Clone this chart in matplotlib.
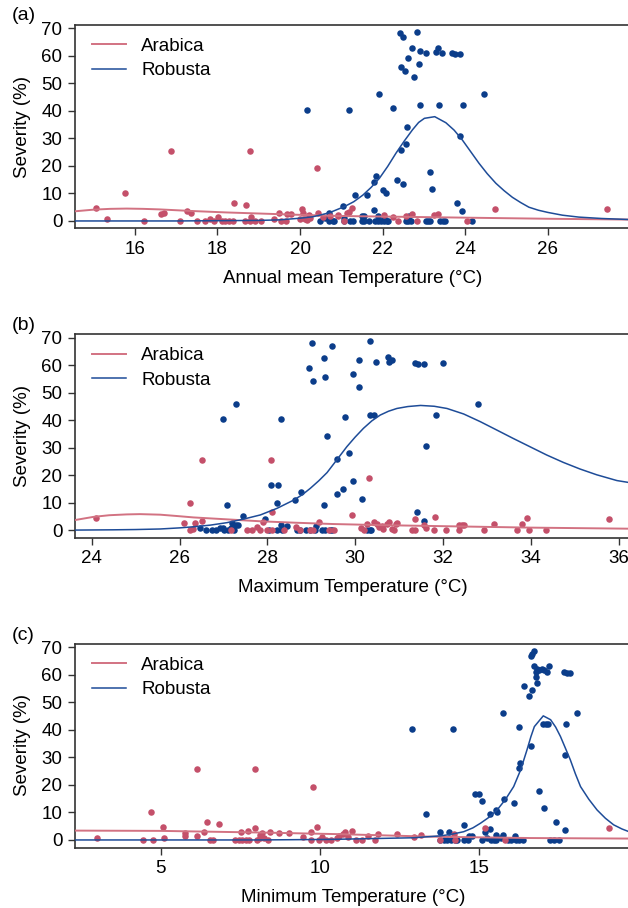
import numpy as np
import matplotlib
matplotlib.use('Agg')
import matplotlib.pyplot as plt

plt.rcParams['font.family'] = ['Liberation Sans', 'DejaVu Sans']
plt.rcParams['font.size'] = 13.5

# ---------------- panel (a): annual mean temperature ----------------
a_rob_x = [22.41, 22.50, 22.84, 22.70, 22.91, 23.06, 23.28, 23.35, 23.43, 23.67, 23.76, 23.88,
           22.62, 22.44, 22.53, 22.89, 22.77, 21.90, 24.46, 20.16, 21.18, 22.26, 22.91, 23.37,
           23.94, 22.58, 23.86, 22.56, 22.44, 23.14, 21.84, 21.78, 22.35, 22.48, 23.19, 22.01,
           22.07, 21.34, 21.62, 21.05, 23.81, 23.93, 21.78,
           20.47, 20.61, 20.69, 20.71, 20.79, 20.81, 21.07, 21.07, 21.20, 21.29, 21.50, 21.54,
           21.50, 21.54, 21.68, 21.81, 21.88, 21.88, 21.96, 22.02, 22.02, 22.10, 22.14, 22.56,
           22.62, 22.64, 22.68, 23.05, 23.10, 23.15, 23.39, 23.45, 23.50, 24.17]
a_rob_y = [68.2, 67.0, 68.5, 62.7, 61.9, 61.2, 61.5, 63.0, 60.9, 60.9, 60.6, 60.6,
           59.3, 55.8, 54.5, 56.9, 52.3, 46.0, 46.0, 40.3, 40.3, 41.2, 42.0, 42.0,
           42.3, 34.3, 30.8, 28.1, 25.9, 17.8, 16.5, 14.0, 14.9, 13.4, 11.5, 11.1,
           10.1, 9.4, 9.4, 5.3, 6.7, 3.6, 4.1,
           0, 1.0, 0, 2.8, 0, 0, 0, 1.0, 0, 0, 1.8, 1.8,
           0, 0, 0, 0, 1.8, 0, 0, 1.0, 0, 0, 0, 0,
           0, 1.8, 0, 0, 0, 0, 0, 0, 0, 0]
a_ara_x = [15.05, 15.33, 15.77, 16.21, 16.64, 16.70, 16.88, 17.10, 17.25, 17.37, 17.51, 17.69,
           17.81, 17.91, 18.01, 18.11, 18.19, 18.28, 18.37, 18.39, 18.66, 18.70, 18.78, 18.82,
           18.92, 19.06, 18.78, 19.38, 19.50, 19.53, 19.67, 19.69, 19.79, 19.99, 20.04, 20.07,
           20.13, 20.21, 20.42, 20.43, 20.55, 20.73, 20.92, 20.91, 21.07, 21.13, 21.18, 21.26,
           22.04, 22.24, 22.38, 22.56, 22.72, 22.84, 23.25, 23.33, 24.05, 24.72, 27.43, 20.17, 20.25]
a_ara_y = [4.6, 0.7, 10.1, 0, 2.5, 3.0, 25.6, 0, 3.5, 2.8, 0, 0,
           0.6, 0, 1.6, 0, 0, 0, 0, 6.7, 0, 5.8, 0, 1.3,
           0, 0, 25.6, 0.6, 2.8, 0, 0, 2.4, 2.4, 0.6, 4.4, 2.8,
           0.6, 2.2, 19.1, 2.8, 1.6, 1.8, 2.2, 1.8, 0, 2.8, 3.4, 4.6,
           2.2, 1.3, 0, 1.8, 2.4, 0, 2.2, 2.4, 0, 4.4, 4.2, 0.3, 1.0]
a_rob_fit_x = [14.55, 17.0, 18.0, 19.0, 19.5, 20.0, 20.3, 20.5, 20.71, 21.07, 21.3, 21.52,
               21.72, 21.92, 22.12, 22.32, 22.52, 22.72, 22.87, 23.01, 23.26, 23.53, 23.73,
               23.93, 24.13, 24.33, 24.53, 24.74, 24.94, 25.14, 25.34, 25.54, 25.77, 26.0,
               26.35, 26.75, 27.3, 28.0]
a_rob_fit_y = [0.0, 0.0, 0.1, 0.2, 0.4, 1.0, 1.5, 2.2, 3.0, 5.2, 7.0, 9.4,
               12.2, 15.5, 19.8, 24.6, 29.0, 33.1, 35.8, 37.3, 37.9, 35.7, 33.0,
               29.4, 25.2, 21.0, 17.2, 13.7, 11.0, 8.6, 6.7, 5.0, 3.9, 3.1,
               2.1, 1.4, 0.9, 0.5]
a_ara_fit_x = [14.54, 14.99, 15.4, 15.8, 16.2, 16.6, 17.0, 17.41, 18.21, 19.02, 19.83, 20.96,
               22.0, 24.0, 26.0, 28.0]
a_ara_fit_y = [3.5, 4.1, 4.4, 4.5, 4.4, 4.2, 3.9, 3.6, 3.1, 2.7, 2.3, 1.8,
               1.6, 1.2, 0.8, 0.5]

# ---------------- panel (b): maximum temperature ----------------
b_rob_x = [27.00, 27.28, 27.09, 27.44, 27.20, 27.28, 27.33, 27.18, 26.46, 26.60, 26.73, 26.84,
           26.93, 26.98, 27.02, 27.10, 27.23, 27.95, 28.08, 28.24, 28.22, 28.30, 28.62, 28.77,
           28.30, 28.45, 28.03, 28.22, 28.33, 28.68, 28.75, 28.89, 28.98, 29.09, 29.25, 29.32,
           29.43, 29.10, 28.96, 29.04, 29.02, 29.30, 29.32, 29.47, 29.35, 29.30, 29.58, 29.58,
           30.33, 30.08, 30.47, 30.74, 30.77, 30.83, 31.37, 31.42, 31.57, 32.00, 29.95, 30.09,
           29.77, 30.34, 30.42, 32.79, 31.83, 31.61, 29.87, 29.95, 29.72, 30.16, 31.40, 31.57,
           29.47, 30.28, 30.33, 30.37]
b_rob_y = [40.3, 46.0, 9.3, 5.3, 2.5, 2.0, 1.9, 1.0, 1.0, 0, 0, 0.2,
           0.7, 1.0, 0, 0, 0, 4.1, 16.5, 16.5, 10.1, 40.3, 11.0, 14.0,
           1.9, 1.7, 0, 0, 0, 0, 0, 0, 0, 0, 0, 0,
           0, 1.7, 59.1, 54.4, 68.1, 62.7, 55.7, 67.0, 34.3, 9.3, 25.8, 13.3,
           68.7, 62.0, 61.2, 62.9, 61.2, 61.8, 60.9, 60.4, 60.4, 60.7, 56.8, 52.2,
           41.2, 41.9, 41.9, 46.0, 42.1, 30.8, 28.0, 17.8, 14.9, 11.5, 6.5, 3.5,
           0, 0, 0, 0]
b_ara_x = [24.10, 26.23, 26.51, 26.11, 26.23, 26.30, 26.36, 26.51, 27.18, 27.54, 27.66, 27.76,
           27.84, 27.91, 27.99, 28.10, 28.39, 28.66, 28.75, 28.98, 29.05, 29.18, 29.40, 29.51,
           28.08, 28.10, 30.31, 29.93, 30.13, 30.19, 30.27, 30.43, 30.49, 30.55, 30.61, 30.64,
           30.72, 30.78, 30.83, 30.89, 30.92, 30.95, 31.29, 31.37, 31.37, 31.57, 31.62, 31.81,
           31.80, 32.06, 32.37, 32.37, 32.43, 32.47, 32.94, 33.16, 33.69, 33.79, 33.92, 33.95,
           34.34, 35.77]
b_ara_y = [4.6, 10.1, 25.6, 2.8, 0, 0.5, 2.8, 3.5, 0, 0, 0, 1.3,
           0, 2.9, 0, 0, 0, 1.3, 0, 0, 0, 2.9, 0, 0,
           25.6, 6.5, 19.1, 5.7, 0.8, 0, 2.3, 2.9, 2.3, 1.3, 1.7, 0.6,
           2.3, 2.9, 0.6, 0.1, 2.3, 2.5, 0, 0, 4.1, 1.9, 0.8, 4.7,
           0, 0, 0, 1.8, 1.8, 1.8, 0, 2.3, 0, 2.3, 4.4, 0,
           0, 4.2]
b_rob_fit_x = [23.62, 24.5, 25.0, 25.56, 26.0, 26.32, 26.7, 27.08, 27.46, 27.84, 28.22, 28.6,
               28.8, 28.98, 29.17, 29.36, 29.6, 29.81, 30.0, 30.19, 30.38, 30.57, 30.76, 30.95,
               31.2, 31.49, 31.8, 32.09, 32.47, 32.85, 33.22, 33.6, 33.98, 34.36, 34.74, 35.12,
               35.5, 35.96, 36.27]
b_rob_fit_y = [0.1, 0.2, 0.3, 0.5, 0.9, 1.3, 1.9, 2.8, 4.1, 5.6, 8.0, 11.0,
               13.0, 15.3, 18.0, 21.0, 26.0, 30.4, 33.9, 37.1, 39.8, 41.9, 43.3, 44.3,
               45.0, 45.4, 45.1, 44.3, 42.3, 39.5, 36.5, 33.4, 30.4, 27.4, 24.7, 22.3,
               20.2, 18.1, 17.3]
b_ara_fit_x = [23.62, 24.04, 24.4, 24.8, 25.1, 25.56, 25.95, 26.32, 27.08, 27.84, 28.6, 29.5,
               30.6, 31.71, 33.98, 36.27]
b_ara_fit_y = [3.75, 4.9, 5.5, 5.8, 5.9, 5.7, 5.2, 4.7, 4.0, 3.3, 2.8, 2.3,
               1.9, 1.6, 1.0, 0.6]

# ---------------- panel (c): minimum temperature ----------------
c_rob_x = [16.61, 16.66, 16.73, 16.73, 16.82, 16.77, 16.87, 16.98, 16.79, 17.18, 17.13, 17.03,
           17.65, 17.76, 17.86, 16.80, 16.40, 16.66, 16.55, 15.74, 18.07, 12.89, 14.16, 16.26,
           16.99, 17.08, 17.15, 17.73, 16.64, 17.68, 16.27, 16.24, 16.89, 17.03, 16.08, 15.77,
           14.88, 14.98, 15.09, 15.51, 15.56, 15.35, 13.32, 14.51, 17.41, 17.68, 15.19, 15.35,
           13.78, 14.04, 13.76, 13.89, 14.00, 14.10, 14.23, 14.31, 14.52, 14.63, 14.68, 14.78,
           15.09, 15.25, 15.36, 15.47, 15.54, 15.54, 15.68, 15.75, 15.89, 15.99, 16.13, 16.15,
           16.26, 16.36, 17.22, 17.36, 17.51]
c_rob_y = [67.0, 67.7, 68.8, 63.1, 62.1, 60.9, 61.9, 62.1, 59.4, 63.1, 61.2, 61.6,
           61.0, 60.7, 60.7, 57.0, 55.8, 54.5, 52.3, 46.1, 46.1, 40.3, 40.3, 41.2,
           42.1, 42.1, 42.1, 42.3, 34.3, 30.8, 27.9, 26.0, 17.8, 11.5, 13.3, 14.9,
           16.6, 16.6, 14.1, 10.9, 10.1, 9.3, 9.3, 5.5, 6.6, 3.5, 3.0, 4.1,
           2.8, 2.8, 0, 0, 0, 0, 0, 0, 0, 0, 1.6, 1.6,
           0, 0.6, 0, 0, 0, 1.8, 0.6, 1.8, 0, 0, 1.6, 0,
           0, 0, 0, 0, 0]
c_ara_x = [2.98, 4.43, 4.75, 4.70, 5.07, 5.09, 5.74, 5.74, 6.14, 6.14, 6.35, 6.45,
           6.54, 6.63, 6.82, 7.34, 7.45, 7.55, 7.66, 7.76, 7.50, 7.74, 7.94, 7.94,
           8.02, 8.10, 8.18, 8.10, 8.25, 8.36, 8.44, 8.72, 9.02, 9.46, 9.70, 9.72,
           9.77, 9.91, 9.96, 10.07, 10.20, 10.35, 10.54, 10.59, 10.72, 10.79, 10.89, 10.99,
           11.12, 11.33, 11.49, 11.71, 11.83, 12.40, 12.96, 13.17, 13.78, 14.25, 14.20, 15.19,
           15.82, 19.06]
c_ara_y = [0.6, 0, 0, 10.1, 4.6, 0.6, 2.4, 1.6, 25.7, 1.5, 2.8, 6.7,
           0, 0, 5.7, 0, 0, 0, 0, 0, 2.8, 3.4, 25.7, 4.2,
           0, 1.8, 2.7, 0.6, 0.6, 0, 2.8, 2.4, 2.4, 1.2, 0, 3.0,
           19.2, 4.6, 0, 1.0, 0, 0, 0.6, 1.6, 2.1, 3.0, 1.0, 3.3,
           0, 0, 1.6, 0, 2.2, 2.2, 1.2, 1.8, 0, 0, 2.0, 4.2,
           0, 4.2]
c_rob_fit_x = [2.3, 8.0, 10.33, 12.94, 13.3, 13.78, 14.1, 14.51, 14.8, 15.04, 15.3, 15.56,
               15.82, 16.08, 16.3, 16.5, 16.62, 16.73, 17.01, 17.24, 17.4, 17.55, 17.7, 17.86,
               18.02, 18.18, 18.44, 18.7, 18.96, 19.22, 19.48, 19.75]
c_rob_fit_y = [0.0, 0.0, 0.2, 0.8, 1.1, 1.5, 2.0, 3.0, 4.4, 6.1, 8.2, 10.9,
               14.7, 19.4, 25.5, 32.8, 37.5, 41.2, 45.1, 43.7, 41.0, 37.6, 33.5, 29.1,
               24.0, 19.4, 14.8, 10.9, 7.9, 5.5, 4.0, 2.8]
c_ara_fit_x = [2.3, 4.99, 8.13, 10.64, 13.47, 16.61, 19.75]
c_ara_fit_y = [3.4, 3.3, 2.7, 2.1, 1.2, 0.7, 0.5]

panel_tags = ['(a)', '(b)', '(c)']
x_titles = ['Annual mean Temperature (\u00b0C)', 'Maximum Temperature (\u00b0C)',
            'Minimum Temperature (\u00b0C)']
x_limits = [(14.55, 28.0), (23.62, 36.27), (2.3, 19.75)]
x_ticks = [[16, 18, 20, 22, 24, 26], [24, 26, 28, 30, 32, 34, 36], [5, 10, 15]]
y_ticks = [0, 10, 20, 30, 40, 50, 60, 70]

ara_pt = '#C4506A'
rob_pt = '#0B3D8A'
ara_ln = '#D27282'
rob_ln = '#1E4C98'

W, H = 628, 908
fig = plt.figure(figsize=(W / 100, H / 100), dpi=100)

bottoms_px = [228.5, 537.9, 847.5]
ax_h = 204.0
ax_w = 555.5
ax_left = 75.0

data = [
    (a_rob_x, a_rob_y, a_ara_x, a_ara_y, a_rob_fit_x, a_rob_fit_y, a_ara_fit_x, a_ara_fit_y),
    (b_rob_x, b_rob_y, b_ara_x, b_ara_y, b_rob_fit_x, b_rob_fit_y, b_ara_fit_x, b_ara_fit_y),
    (c_rob_x, c_rob_y, c_ara_x, c_ara_y, c_rob_fit_x, c_rob_fit_y, c_ara_fit_x, c_ara_fit_y),
]

for i in range(3):
    rx, ry, ax_, ay, rfx, rfy, afx, afy = data[i]
    bot = bottoms_px[i]
    ax = fig.add_axes([ax_left / W, 1 - bot / H, ax_w / W, ax_h / H])

    ax.scatter(rx, ry, s=22, color=rob_pt, linewidths=0, zorder=3)
    ax.scatter(ax_, ay, s=22, color=ara_pt, linewidths=0, zorder=3)
    ax.plot(afx, afy, color=ara_ln, lw=1.4, zorder=4, label='Arabica')
    ax.plot(rfx, rfy, color=rob_ln, lw=1.1, zorder=4, label='Robusta')

    ax.set_xlim(*x_limits[i])
    ax.set_ylim(-2.74, 71.4)
    ax.set_xticks(x_ticks[i])
    ax.set_yticks(y_ticks)
    ax.tick_params(direction='out', length=5, width=1.0, color='#333333',
                   labelsize=13.5, pad=4)
    for sp in ax.spines.values():
        sp.set_color('#333333')
        sp.set_linewidth(1.2)

    leg = ax.legend(loc='upper left', bbox_to_anchor=(0.03, 0.935), frameon=False,
                    fontsize=13.5, handlelength=1.85, handletextpad=0.8,
                    labelspacing=0.38, borderpad=0, borderaxespad=0)

    top = bot - ax_h
    fig.text(12 / W, 1 - (top - 8.5) / H, panel_tags[i], fontsize=14, va='center', ha='left')
    fig.text(23 / W, 1 - (bot - ax_h / 2) / H, 'Severity (%)', fontsize=13.5,
             rotation=90, va='center', ha='center')
    fig.text((ax_left + ax_w / 2) / W, 1 - (bot + 50) / H, x_titles[i], fontsize=13.5,
             va='center', ha='center')

fig.savefig('out.png', dpi=100)
